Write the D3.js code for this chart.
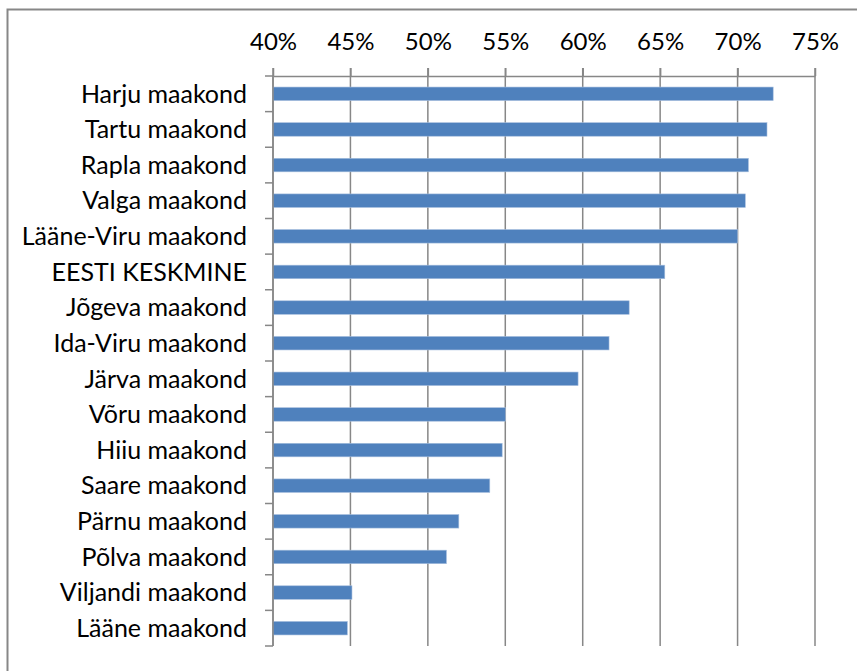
<!DOCTYPE html>
<html>
<head>
<meta charset="utf-8">
<script src="https://cdn.jsdelivr.net/npm/d3@7"></script>
<style>
  body { margin: 0; background: #fff; }
  text { font-family: Lato, "Open Sans", sans-serif; fill: #000; }
</style>
</head>
<body>
<div id="chart_area"></div>
<script>
// Data
var counties = ["Harju maakond", "Tartu maakond", "Rapla maakond", "Valga maakond",
  "Lääne-Viru maakond", "EESTI KESKMINE", "Jõgeva maakond", "Ida-Viru maakond",
  "Järva maakond", "Võru maakond", "Hiiu maakond", "Saare maakond",
  "Pärnu maakond", "Põlva maakond", "Viljandi maakond", "Lääne maakond"];
var shares = [0.723, 0.719, 0.707, 0.705, 0.700, 0.653, 0.630, 0.617,
  0.597, 0.550, 0.548, 0.540, 0.520, 0.512, 0.451, 0.448];
var tickValues = [0.40, 0.45, 0.50, 0.55, 0.60, 0.65, 0.70, 0.75];

var W = 857, H = 671;
var margin = {top: 76, right: 42, bottom: 25, left: 273},
    width = W - margin.left - margin.right,
    height = H - margin.top - margin.bottom;

var axisColor = "#878787";

var svg = d3.select("#chart_area").append("svg")
    .attr("width", W)
    .attr("height", H);

// outer frame (only top and left visible)
svg.append("path")
    .attr("d", "M7.5," + (H + 5) + "V9.5H" + (W + 5))
    .attr("fill", "none")
    .attr("stroke", axisColor)
    .attr("stroke-width", 2);

var g = svg.append("g")
    .attr("transform", "translate(" + margin.left + "," + margin.top + ")");

// Set ranges
var x = d3.scaleLinear()
    .domain([0.40, 0.75])
    .range([0, width]);
var y = d3.scaleBand()
    .domain(counties)
    .range([0, height])
    .paddingInner(0.62)
    .paddingOuter(0.31);

// vertical gridlines
g.selectAll(".grid")
    .data(tickValues)
    .enter().append("line")
    .attr("class", "grid")
    .attr("x1", function(d) { return x(d); })
    .attr("x2", function(d) { return x(d); })
    .attr("y1", -8)
    .attr("y2", height)
    .attr("stroke", axisColor)
    .attr("stroke-width", 1.5);

// top axis
var xAxis = g.append("g")
    .call(d3.axisTop(x)
      .tickValues(tickValues)
      .tickFormat(d3.format(".0%"))
      .tickSize(8)
      .tickSizeOuter(0)
      .tickPadding(18));
xAxis.select(".domain").attr("stroke", axisColor).attr("stroke-width", 1.5);
xAxis.selectAll(".tick line").attr("stroke", axisColor).attr("stroke-width", 1.5);
xAxis.selectAll(".tick text")
    .attr("font-size", 24)
    .attr("fill", "#000");

// bars
g.selectAll(".bar")
    .data(shares)
    .enter().append("rect")
    .attr("class", "bar")
    .attr("x", 0)
    .attr("y", function(d, i) { return y(counties[i]); })
    .attr("width", function(d) { return x(d) - x(0.40); })
    .attr("height", y.bandwidth())
    .attr("fill", "#4f81bd")
    .attr("stroke", "#a7bfde")
    .attr("stroke-width", 0.6);

// left axis with ticks at category boundaries
var boundaries = d3.range(counties.length + 1).map(function(i) { return i * y.step(); });
g.append("line")
    .attr("x1", 0).attr("x2", 0)
    .attr("y1", 0).attr("y2", height)
    .attr("stroke", axisColor)
    .attr("stroke-width", 1.5);
g.selectAll(".ytick")
    .data(boundaries)
    .enter().append("line")
    .attr("class", "ytick")
    .attr("x1", -8).attr("x2", 0)
    .attr("y1", function(d) { return d; })
    .attr("y2", function(d) { return d; })
    .attr("stroke", axisColor)
    .attr("stroke-width", 1.5);

// category labels
g.selectAll(".label")
    .data(counties)
    .enter().append("text")
    .attr("class", "label")
    .attr("x", -26)
    .attr("y", function(d) { return y(d) + y.bandwidth() / 2; })
    .attr("dy", "0.35em")
    .attr("text-anchor", "end")
    .attr("font-size", 25)
    .text(function(d) { return d; });
</script>
</body>
</html>
